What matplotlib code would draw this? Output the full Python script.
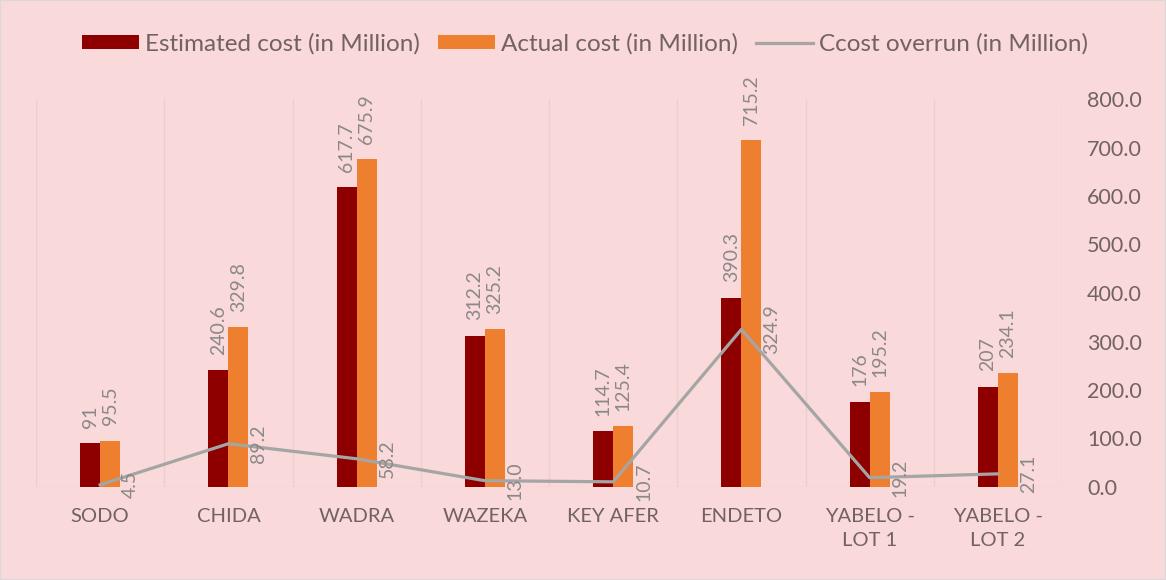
import numpy as np
import matplotlib.pyplot as plt

# ── Data ────────────────────────────────────────────────────────────────────
categories = ["SODO", "CHIDA", "WADRA", "WAZEKA", "KEY AFER", "ENDETO",
              "YABELO -\nLOT 1", "YABELO -\nLOT 2"]
estimated  = [91, 240.6, 617.7, 312.2, 114.7, 390.3, 176, 207]
actual     = [95.5, 329.8, 675.9, 325.2, 125.4, 715.2, 195.2, 234.1]
overrun    = [4.5, 89.2, 58.2, 13.0, 10.7, 324.9, 19.2, 27.1]
y_ticks    = [0, 100, 200, 300, 400, 500, 600, 700, 800]

# ── Style ───────────────────────────────────────────────────────────────────
BG       = "#f9d9d9"
DARK_RED = "#8e0000"
ORANGE   = "#ee7f2e"
GREY     = "#a5a5a5"
LBL_COL  = "#8c8888"
TXT_COL  = "#726262"
plt.rcParams["font.family"] = ["Lato", "DejaVu Sans"]

fig = plt.figure(figsize=(11.66, 5.80), dpi=100, facecolor=BG)
ax = fig.add_axes([36 / 1166, 93 / 580, (1062 - 36) / 1166, (487 - 99) / 580])
ax.set_facecolor(BG)

x = np.arange(len(categories))
w = 0.155

b1 = ax.bar(x - w / 2, estimated, w, color=DARK_RED, label="Estimated cost (in Million)", zorder=2)
b2 = ax.bar(x + w / 2, actual, w, color=ORANGE, label="Actual cost (in Million)", zorder=2)
ln, = ax.plot(x, overrun, color=GREY, lw=2.3, label="Ccost overrun (in Million)", zorder=3)

# ── Data labels ─────────────────────────────────────────────────────────────
for bars, vals in ((b1, estimated), (b2, actual)):
    for r, v in zip(bars, vals):
        ax.annotate(f"{v:g}", (r.get_x() + r.get_width() / 2, v),
                    xytext=(0, 11), textcoords="offset points",
                    rotation=90, ha="center", va="bottom",
                    fontsize=14, color=LBL_COL, clip_on=False)

for xi, v in zip(x, overrun):
    ax.annotate(f"{v:.1f}", (xi, v), xytext=(22, 0), textcoords="offset points",
                rotation=90, ha="center", va="center",
                fontsize=14, color=LBL_COL, zorder=4)

# ── Axes ────────────────────────────────────────────────────────────────────
ax.set_xlim(-0.5, len(categories) - 0.5)
ax.set_ylim(0, 800)
ax.set_yticks(y_ticks)
ax.set_yticklabels([f"{t:.1f}" for t in y_ticks])
ax.yaxis.tick_right()
ax.tick_params(axis="y", length=0, pad=18, labelsize=15.5, labelcolor=TXT_COL)
ax.set_xticks(x)
ax.set_xticklabels(categories, linespacing=1.5)
ax.tick_params(axis="x", length=0, pad=15, labelsize=14.5, labelcolor=TXT_COL)
for s in ax.spines.values():
    s.set_visible(False)

for b in np.arange(-0.5, len(categories), 1.0):
    ax.axvline(b, color="#ebcfcf", lw=1.0, zorder=1)
ax.axhline(0, color="#ebcfcf", lw=1.0, zorder=1)

fig.legend(handles=[b1, b2, ln], loc="center", bbox_to_anchor=(585 / 1166, 1 - 44 / 580),
           ncol=3, frameon=False, fontsize=17.5, handlelength=2.35, handleheight=0.53,
           handletextpad=0.25, columnspacing=0.75, labelcolor=TXT_COL)

fig.patches.append(plt.Rectangle((0, 0), 1, 1, transform=fig.transFigure,
                                 fill=False, edgecolor="#d9d9d9", lw=1.5))

plt.savefig("out.png", dpi=100, facecolor=BG)
